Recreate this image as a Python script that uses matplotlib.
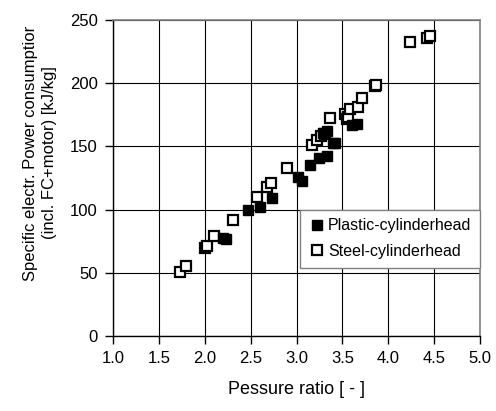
import matplotlib
matplotlib.use('Agg')
import matplotlib.pyplot as plt

plt.rcParams['font.family'] = ['Liberation Sans', 'DejaVu Sans']

# plastic cylinderhead (filled squares)
plastic_x = [2.20, 2.23, 2.47, 2.60, 2.73, 3.02, 3.06, 3.15, 3.24, 3.33,
             3.29, 3.33, 3.40, 3.42, 3.60, 3.66]
plastic_y = [77.5, 77, 99.5, 102, 109, 126, 123, 135, 141, 142.5,
             161, 162.5, 153, 153, 167, 168]

# steel cylinderhead (open squares)
steel_x = [1.73, 1.80, 2.00, 2.02, 2.10, 2.31, 2.57, 2.68, 2.72, 2.90,
           3.17, 3.22, 3.27, 3.31, 3.36, 3.53, 3.55, 3.56, 3.58, 3.67,
           3.71, 3.85, 3.86, 4.24, 4.42, 4.45]
steel_y = [51, 55.5, 69.5, 71.5, 79, 92, 110, 118, 121, 133,
           151, 155, 158, 160, 172.5, 176, 171.5, 173.5, 180, 181.5,
           188, 197.5, 199, 233, 236, 237.5]

fs = 12

fig = plt.figure(figsize=(4.96, 4.11), dpi=100)
ax = fig.add_axes([0.228, 0.1825, 0.740, 0.7685])

ax.plot(steel_x, steel_y, 's', ls='none', mfc='white', mec='black',
        ms=7, mew=1.6, label='Steel-cylinderhead', zorder=3)
ax.plot(plastic_x, plastic_y, 's', ls='none', mfc='black', mec='black',
        ms=6.5, mew=1.0, label='Plastic-cylinderhead', zorder=4)

ax.set_xlim(1.0, 5.0)
ax.set_ylim(0, 250)
ax.set_xticks([1.0, 1.5, 2.0, 2.5, 3.0, 3.5, 4.0, 4.5, 5.0])
ax.set_xticklabels(['1.0', '1.5', '2.0', '2.5', '3.0', '3.5', '4.0', '4.5', '5.0'])
ax.set_yticks([0, 50, 100, 150, 200, 250])
ax.grid(True, color='black', lw=0.8)
ax.set_axisbelow(True)

for s in ['top', 'right']:
    ax.spines[s].set_color('#808080')
    ax.spines[s].set_linewidth(1.2)
for s in ['left', 'bottom']:
    ax.spines[s].set_color('black')
    ax.spines[s].set_linewidth(1.0)

ax.tick_params(direction='out', length=6, width=1, labelsize=fs, pad=5)

fig.text(0.5977, 0.0535, 'Pessure ratio [ - ]', fontsize=13,
         ha='center', va='center')
fig.text(0.081, 0.628, 'Specific electr. Power consumptior\n(incl. FC+motor) [kJ/kg]',
         fontsize=fs, ha='center', va='center', rotation=90,
         multialignment='center', linespacing=1.35)

h, l = ax.get_legend_handles_labels()
leg = ax.legend(h[::-1], l[::-1], loc='upper right', bbox_to_anchor=(1.0, 0.40),
                borderaxespad=0, fancybox=False, framealpha=1, fontsize=11.5,
                handletextpad=0.2, handlelength=1.0, borderpad=0.55,
                labelspacing=0.65)
leg.get_frame().set_edgecolor('#808080')
leg.get_frame().set_linewidth(1.0)

fig.savefig('out.png', dpi=100)
